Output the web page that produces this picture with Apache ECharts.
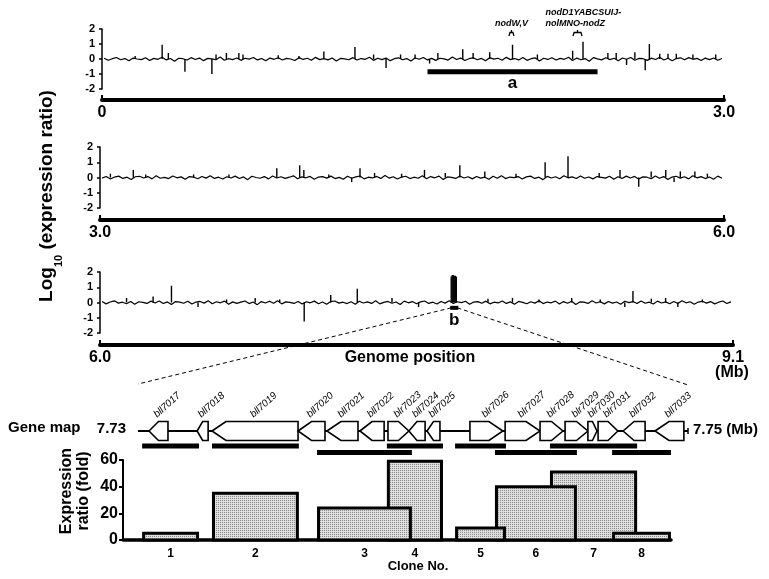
<!DOCTYPE html>
<html><head><meta charset="utf-8">
<script src="https://cdn.jsdelivr.net/npm/echarts@6/dist/echarts.min.js"></script>
<style>html,body{margin:0;padding:0;background:#fff}#c{width:769px;height:579px}</style>
</head><body><div id="c"></div>
<script>
// ================= DATA =================
const panelRanges = [[0, 3.0], [3.0, 6.0], [6.0, 9.1]];          // Mb
const panelTickLabels = [['0', '3.0'], ['3.0', '6.0'], ['6.0', '9.1']];
const logTicks = [-2, -1, 0, 1, 2];
const noiseStep = 0.02; // Mb between baseline readings
const noise1 = [0.05,-0.08,0.02,0.10,-0.05,0.03,-0.12,0.06,0.00,-0.04,0.08,-0.10,0.04,-0.02,0.12,-0.06,0.03,-0.15,0.05,0.02,-0.07,0.09,-0.03,0.06,-0.11,0.04,0.01,-0.05,0.13,-0.08,0.02,-0.04,0.07,-0.09,0.05,-0.01,0.10,-0.06,0.03,-0.12,0.06,-0.02,0.08,-0.07,0.04,0.00,-0.10,0.09,-0.03,0.05,-0.08,0.11,-0.04,0.02,-0.06,0.07,-0.13,0.04,0.01,-0.05,0.09,-0.07,0.03,-0.02,0.12,-0.09,0.05,-0.04,0.06,-0.11,0.02,0.08,-0.05,0.03,-0.14,0.07,-0.02,0.10,-0.06,0.04,-0.09,0.05,0.01,-0.07,0.13,-0.03,0.06,-0.10,0.02,0.08,-0.05,0.04,-0.12,0.09,-0.01,0.05,-0.08,0.11,-0.04,0.03,-0.06,0.10,-0.09,0.02,0.07,-0.13,0.05,-0.03,0.08,-0.07,0.04,-0.02,0.12,-0.10,0.06,-0.05,0.03,-0.15,0.09,0.01,-0.06,0.08,-0.04,0.05,-0.11,0.07,-0.02,0.10,-0.08,0.04,0.02,-0.09,0.06,-0.03,0.11,-0.07,0.05,-0.12,0.03,0.08,-0.05,0.09,-0.02,0.04,-0.10,0.06,-0.04,0.07,-0.08,0.03];
const noise2 = [-0.04,0.07,-0.10,0.03,0.09,-0.06,0.02,-0.13,0.05,0.08,-0.03,0.06,-0.09,0.11,-0.05,0.01,-0.07,0.10,-0.02,0.04,-0.12,0.06,0.03,-0.08,0.07,-0.04,0.12,-0.06,0.02,-0.10,0.05,-0.03,0.09,-0.07,0.04,-0.14,0.08,0.00,-0.05,0.06,-0.09,0.10,-0.03,0.05,-0.06,0.02,0.11,-0.08,0.04,-0.02,0.07,-0.11,0.03,0.06,-0.04,0.09,-0.07,0.01,-0.12,0.08,-0.05,0.04,0.10,-0.09,0.02,-0.03,0.07,-0.06,0.13,-0.04,0.05,-0.10,0.03,0.08,-0.07,0.02,-0.05,0.11,-0.08,0.06,-0.02,0.09,-0.13,0.04,0.01,-0.06,0.10,-0.03,0.05,-0.09,0.07,-0.04,0.02,-0.11,0.08,-0.05,0.12,-0.07,0.03,-0.01,0.06,-0.10,0.04,0.09,-0.06,0.02,-0.14,0.07,-0.03,0.05,-0.08,0.11,-0.02,0.04,-0.07,0.10,-0.05,0.03,-0.09,0.06,0.01,-0.04,0.08,-0.12,0.05,-0.06,0.09,-0.03,0.07,-0.10,0.04,0.02,-0.08,0.10,-0.05,0.06,-0.13,0.03,0.08,-0.04,0.05,-0.09,0.12,-0.02,0.06,-0.07,0.03,-0.11,0.09,-0.05];
const noise3 = [0.06,-0.09,0.03,0.11,-0.04,0.02,-0.08,0.07,-0.12,0.05,0.01,-0.06,0.09,-0.03,0.10,-0.07,0.04,-0.13,0.06,0.02,-0.05,0.08,-0.10,0.03,0.07,-0.04,0.12,-0.08,0.05,-0.02,0.09,-0.11,0.04,-0.06,0.02,0.10,-0.07,0.03,-0.14,0.06,-0.03,0.08,-0.05,0.11,-0.09,0.04,0.01,-0.06,0.07,-0.10,0.05,-0.02,0.09,-0.08,0.03,-0.12,0.06,0.10,-0.04,0.02,-0.07,0.05,-0.11,0.08,-0.03,0.04,-0.06,0.12,-0.09,0.01,0.07,-0.05,0.03,-0.13,0.09,-0.02,0.06,-0.08,0.04,0.10,-0.06,0.02,-0.10,0.07,-0.04,0.11,-0.07,0.05,-0.01,0.08,-0.12,0.03,0.06,-0.05,0.09,-0.09,0.02,-0.03,0.10,-0.06,0.04,-0.11,0.07,0.01,-0.08,0.05,-0.04,0.12,-0.07,0.03,-0.02,0.09,-0.10,0.06,-0.05,0.08,-0.13,0.04,0.02,-0.06,0.11,-0.03,0.05,-0.09,0.07,-0.04,0.03,-0.12,0.08,-0.01,0.06,-0.07,0.10,-0.05,0.02,-0.10,0.09,-0.03,0.04,-0.08,0.07,-0.06,0.12,-0.02,0.05,-0.11,0.03,0.08,-0.04,0.06,-0.09,0.02,0.10,-0.07,0.04];
// notable spikes [position Mb, log10 ratio]
const spikes1 = [[0.16,0.2],[0.29,0.95],[0.32,0.4],[0.40,-0.85],[0.53,-1.0],[0.55,0.3],[0.60,0.4],[0.66,0.4],[0.68,0.3],[0.85,0.25],[0.95,0.2],[1.07,0.5],[1.22,0.8],[1.31,0.3],[1.37,-0.6],[1.44,0.3],[1.51,0.3],[1.58,-0.3],[1.62,0.4],[1.74,0.65],[1.79,0.4],[1.87,0.45],[1.98,0.95],[2.10,0.3],[2.27,0.55],[2.32,1.15],[2.44,0.4],[2.48,0.4],[2.53,-0.4],[2.57,0.45],[2.62,-0.75],[2.64,1.0],[2.69,0.35],[2.73,0.35],[2.77,0.35],[2.85,0.3],[2.96,0.3]];
const spikes2 = [[3.05,0.25],[3.16,0.5],[3.22,0.2],[3.45,0.2],[3.62,0.2],[3.85,0.6],[3.96,0.8],[3.98,0.5],[4.10,0.2],[4.21,-0.3],[4.25,0.6],[4.32,0.3],[4.45,0.25],[4.56,0.5],[4.66,0.3],[4.73,0.8],[4.85,0.4],[5.00,0.25],[5.14,1.0],[5.25,1.4],[5.40,0.3],[5.50,0.5],[5.59,-0.6],[5.65,0.4],[5.72,0.5],[5.76,-0.3],[5.79,0.4],[5.86,0.4],[5.92,0.25]];
const spikes3 = [[6.13,0.3],[6.26,0.4],[6.35,1.1],[6.48,-0.3],[6.62,0.2],[6.76,0.3],[6.88,0.2],[7.00,-1.25],[7.13,0.5],[7.26,0.9],[7.43,0.3],[7.56,-0.3],[7.720,1.7],[7.725,1.8],[7.730,1.8],[7.735,1.75],[7.740,1.75],[7.745,1.7],[7.90,0.25],[8.02,0.3],[8.15,0.2],[8.31,0.3],[8.45,0.2],[8.57,-0.3],[8.61,0.75],[8.70,0.25],[8.77,0.3],[8.83,-0.3],[8.95,0.2]];
const regionA = [1.57, 2.39];     // Mb, labelled "a"
const regionB = [7.72, 7.75];     // Mb, labelled "b"
const annotLines = [['nodW,V'], ['nodD1YABCSUIJ-', 'nolMNO-nodZ']];
const annotFrom = [1.963, 2.272];
const annotTo = [1.987, 2.315];
// gene map (kb)
const geneMapRange = [7730, 7750];
const geneNames  = ['bll7017','bll7018','bll7019','bll7020','bll7021','bll7022','blr7023','bll7024','bll7025','blr7026','blr7027','blr7028','blr7029','blr7030','blr7031','bll7032','bll7033'];
const geneStart  = [7730.40,7732.15,7732.69,7735.82,7736.87,7738.07,7739.09,7739.85,7740.51,7742.07,7743.35,7744.62,7745.53,7746.36,7746.73,7747.64,7748.80];
const geneEnd    = [7731.09,7732.55,7735.82,7736.80,7738.00,7738.95,7739.85,7740.44,7740.98,7743.27,7744.62,7745.45,7746.36,7746.69,7747.45,7748.44,7749.85];
const geneStrand = [-1,-1,-1,-1,-1,-1,1,-1,-1,1,1,1,1,1,1,-1,-1];
// clones
const cloneNo    = ['1','2','3','4','5','6','7','8'];
const cloneStart = [7730.15,7732.69,7736.51,7739.05,7741.53,7742.98,7744.98,7747.24];
const cloneEnd   = [7732.22,7735.85,7739.96,7741.09,7743.38,7745.96,7748.15,7749.38];
const cloneRatio = [5, 35, 24, 59, 9, 40, 51, 5];   // fold
const ratioTicks = [0, 20, 40, 60];

// ================= LAYOUT =================
const FONT = '"Liberation Sans", Arial, Helvetica, sans-serif';
const P = [
  {left:102, top:29,  width:622, height:60, offset:11},
  {left:100, top:147, width:624, height:61, offset:12},
  {left:100, top:272, width:633, height:61, offset:12}
];
const cloneRow = [0,0,1,0,0,1,0,1];
const GENE = {left:138, top:421, width:550, height:20};
const BAR = {left:123, top:460, width:548, height:80};
const kbPx = GENE.width / (geneMapRange[1]-geneMapRange[0]);

const chart = echarts.init(document.getElementById('c'), null, {renderer:'canvas', width:769, height:579});

// dotted fill pattern
const pc = document.createElement('canvas'); pc.width = 2; pc.height = 2;
const g2 = pc.getContext('2d'); g2.fillStyle = '#dedede'; g2.fillRect(0,0,2,2); g2.fillStyle = '#8c8c8c'; g2.fillRect(0,0,1,1);
const pattern = {image: pc, repeat: 'repeat'};

const grid = [], xAxis = [], yAxis = [], series = [];
const noises = [noise1, noise2, noise3], spikes = [spikes1, spikes2, spikes3];
P.forEach((p, i) => {
  const r = panelRanges[i];
  grid.push({left:p.left, top:p.top, width:p.width, height:p.height, containLabel:false, outerBoundsMode:'none'});
  xAxis.push({gridIndex:i, type:'value', min:r[0], max:r[1], offset:p.offset,
    axisLine:{show:true, onZero:false, lineStyle:{color:'#000', width:4}},
    axisTick:{show:true, inside:true, length:5, customValues:r, lineStyle:{color:'#000', width:2}},
    axisLabel:{show:true, customValues:r, formatter:(v)=> Math.abs(v-r[0])<1e-9 ? panelTickLabels[i][0] : panelTickLabels[i][1],
      color:'#000', fontFamily:FONT, fontWeight:'bold', fontSize:16, margin:5},
    splitLine:{show:false}});
  yAxis.push({gridIndex:i, type:'value', min:logTicks[0], max:logTicks[logTicks.length-1], interval:1,
    axisLine:{show:true, onZero:false, lineStyle:{color:'#000', width:1.5}},
    axisTick:{show:true, length:3, lineStyle:{color:'#000', width:1.5}},
    axisLabel:{color:'#000', fontFamily:FONT, fontWeight:'bold', fontSize:11, margin:7},
    splitLine:{show:false}});
  series.push({type:'line', xAxisIndex:i, yAxisIndex:i, symbol:'none', silent:true, animation:false,
    lineStyle:{color:'#000', width:1.2}, data: noises[i].map((v,k)=>[r[0] + noiseStep*(k+0.5), v])});
  series.push({type:'custom', xAxisIndex:i, yAxisIndex:i, silent:true, animation:false, encode:{x:0, y:1},
    data: spikes[i],
    renderItem: (params, api) => {
      const x = api.value(0), v = api.value(1);
      const a = api.coord([x, 0]), b = api.coord([x, v]);
      return {type:'line', shape:{x1:a[0], y1:a[1], x2:b[0], y2:b[1]}, style:{stroke:'#000', lineWidth:1.4}};
    }});
});
// gene map grid
grid.push({left:GENE.left, top:GENE.top, width:GENE.width, height:GENE.height, containLabel:false, outerBoundsMode:'none'});
xAxis.push({gridIndex:3, type:'value', min:geneMapRange[0], max:geneMapRange[1], show:false});
yAxis.push({gridIndex:3, type:'value', min:0, max:1, show:false});
// bar grid
grid.push({left:BAR.left, top:BAR.top, width:BAR.width, height:BAR.height, containLabel:false, outerBoundsMode:'none'});
xAxis.push({gridIndex:4, type:'value', min:geneMapRange[0] - (GENE.left-BAR.left)/kbPx,
  max:geneMapRange[0] + (BAR.left+BAR.width-GENE.left)/kbPx,
  axisLine:{show:true, onZero:false, lineStyle:{color:'#000', width:3.5}}, axisTick:{show:false}, axisLabel:{show:false}, splitLine:{show:false}});
yAxis.push({gridIndex:4, type:'value', min:ratioTicks[0], max:ratioTicks[ratioTicks.length-1], interval:20,
  axisLine:{show:true, onZero:false, lineStyle:{color:'#000', width:2}},
  axisTick:{show:true, length:4, lineStyle:{color:'#000', width:2}},
  axisLabel:{color:'#000', fontFamily:FONT, fontWeight:'bold', fontSize:16, margin:5},
  splitLine:{show:false}});

// region a
series.push({type:'custom', xAxisIndex:0, yAxisIndex:0, silent:true, animation:false, data:[regionA],
  renderItem:(params, api) => {
    const p1 = api.coord([regionA[0], -0.85]), p2 = api.coord([regionA[1], -0.85]);
    return {type:'group', children:[
      {type:'rect', shape:{x:p1[0], y:p1[1]-2.5, width:p2[0]-p1[0], height:5}, style:{fill:'#000'}},
      {type:'text', style:{text:'a', x:(p1[0]+p2[0])/2, y:p1[1]+12, align:'center', verticalAlign:'middle', fill:'#000', font:'bold 17px '+FONT}}
    ]};
  }});
// annotations
series.push({type:'custom', xAxisIndex:0, yAxisIndex:0, silent:true, animation:false, data: annotFrom.map((f,i)=>[f, annotTo[i]]),
  renderItem:(params, api) => {
    const i = params.dataIndex;
    const x1 = api.coord([annotFrom[i], 0])[0], x2 = api.coord([annotTo[i], 0])[0];
    const yb = api.coord([0, 2])[1] + 3.5, xc = (x1+x2)/2;
    const lines = annotLines[i];
    const children = [
      {type:'polyline', shape:{points:[[x1,yb+3.5],[x1+1,yb],[x2-1,yb],[x2,yb+3.5]]}, style:{stroke:'#000', lineWidth:1.3, fill:null}},
      {type:'line', shape:{x1:xc, y1:yb, x2:xc, y2:yb-2.5}, style:{stroke:'#000', lineWidth:1.3}}
    ];
    lines.forEach((t, j) => {
      const y = yb - 8.5 - (lines.length-1-j)*11.5;
      children.push({type:'text', style:{text:t, x: lines.length>1 ? xc-32 : xc, y:y, align: lines.length>1 ? 'left':'center',
        verticalAlign:'middle', fill:'#000', font:'italic bold 9px '+FONT}});
    });
    return {type:'group', children};
  }});
// region b marker
series.push({type:'custom', xAxisIndex:2, yAxisIndex:2, silent:true, animation:false, data:[regionB],
  renderItem:(params, api) => {
    const p1 = api.coord([regionB[0], -0.35]), p2 = api.coord([regionB[1], -0.35]);
    return {type:'group', children:[
      {type:'rect', shape:{x:p1[0]-1, y:p1[1]-2, width:p2[0]-p1[0]+2, height:4}, style:{fill:'#000'}},
      {type:'text', style:{text:'b', x:(p1[0]+p2[0])/2, y:p1[1]+12, align:'center', verticalAlign:'middle', fill:'#000', font:'bold 17px '+FONT}}
    ]};
  }});
// gene map line
series.push({type:'custom', xAxisIndex:3, yAxisIndex:3, silent:true, animation:false, data:[geneMapRange],
  renderItem:(params, api) => {
    const a = api.coord([geneMapRange[0], 0.5]), b = api.coord([geneMapRange[1], 0.5]);
    return {type:'group', children:[
      {type:'line', shape:{x1:a[0], y1:a[1], x2:b[0], y2:b[1]}, style:{stroke:'#000', lineWidth:2}},
      {type:'line', shape:{x1:b[0], y1:b[1]-3, x2:b[0], y2:b[1]+3}, style:{stroke:'#000', lineWidth:1.5}}
    ]};
  }});
// genes
series.push({type:'custom', xAxisIndex:3, yAxisIndex:3, silent:true, animation:false, z:3,
  data: geneNames.map((n,i)=>[geneStart[i], geneEnd[i]]), encode:{x:[0,1]},
  renderItem:(params, api) => {
    const i = params.dataIndex;
    const xs = api.coord([geneStart[i], 0.5])[0], xe = api.coord([geneEnd[i], 0.5])[0];
    const yc = api.coord([0, 0.5])[1], H = 19, h = Math.min(14, (xe-xs)*0.5);
    let pts;
    if (geneStrand[i] < 0) pts = [[xs,yc],[xs+h,yc-H/2],[xe,yc-H/2],[xe,yc+H/2],[xs+h,yc+H/2]];
    else pts = [[xs,yc-H/2],[xe-h,yc-H/2],[xe,yc],[xe-h,yc+H/2],[xs,yc+H/2]];
    const xm = (xs+xe)/2;
    return {type:'group', children:[
      {type:'polygon', shape:{points:pts}, style:{fill:'#fff', stroke:'#000', lineWidth:1.6}},
      {type:'text', x:xm, y:yc-H/2-2, rotation:42*Math.PI/180,
        style:{text:geneNames[i], x:0, y:0, align:'left', verticalAlign:'bottom', fill:'#000', font:'italic 10px '+FONT}}
    ]};
  }});
// clone segments under gene map
series.push({type:'custom', xAxisIndex:3, yAxisIndex:3, silent:true, animation:false,
  data: cloneNo.map((c,i)=>[cloneStart[i], cloneEnd[i]]), encode:{x:[0,1]},
  renderItem:(params, api) => {
    const i = params.dataIndex;
    const a = api.coord([cloneStart[i], 0.5]), b = api.coord([cloneEnd[i], 0.5]);
    const y = a[1] + 15 + cloneRow[i]*6.5;
    return {type:'rect', shape:{x:a[0], y:y-2.5, width:b[0]-a[0], height:5}, style:{fill:'#000'}};
  }});
// expression ratio bars (taller drawn first)
const barOrder = cloneNo.map((c,i)=>i).sort((a,b)=>cloneRatio[b]-cloneRatio[a]);
series.push({type:'custom', xAxisIndex:4, yAxisIndex:4, silent:true, animation:false,
  data: barOrder.map(i=>[cloneStart[i], cloneEnd[i], cloneRatio[i]]), encode:{x:[0,1], y:2},
  renderItem:(params, api) => {
    const i = barOrder[params.dataIndex];
    const a = api.coord([cloneStart[i], cloneRatio[i]]), b = api.coord([cloneEnd[i], 0]);
    return {type:'group', children:[
      {type:'rect', z2: params.dataIndex*2, shape:{x:a[0]+1.5, y:a[1], width:b[0]-a[0]-3, height:b[1]-a[1]},
        style:{fill:pattern, stroke:'#000', lineWidth:3}},
      {type:'text', z2:100, style:{text:cloneNo[i], x:(a[0]+b[0])/2, y:b[1]+14, align:'center', verticalAlign:'middle', fill:'#000', font:'bold 12px '+FONT}}
    ]};
  }});

const graphic = [
  {type:'text', x:47, y:196, rotation:Math.PI/2, style:{text:'{b|Log}{s|10}{b| (expression ratio)}', align:'center', verticalAlign:'middle',
    rich:{b:{font:'bold 19px '+FONT, fill:'#000', lineHeight:22}, s:{font:'bold 11px '+FONT, fill:'#000', verticalAlign:'bottom', lineHeight:22, padding:[0,0,-6,0]}}}},
  {type:'text', x:410, y:358, style:{text:'Genome position', align:'center', verticalAlign:'middle', fill:'#000', font:'bold 16px '+FONT}},
  {type:'text', x:732, y:373, style:{text:'(Mb)', align:'center', verticalAlign:'middle', fill:'#000', font:'bold 16px '+FONT}},
  {type:'text', x:8, y:428, style:{text:'Gene map', align:'left', verticalAlign:'middle', fill:'#000', font:'bold 15px '+FONT}},
  {type:'text', x:126, y:429, style:{text:(geneMapRange[0]/1000).toFixed(2), align:'right', verticalAlign:'middle', fill:'#000', font:'bold 15px '+FONT}},
  {type:'text', x:693, y:430, style:{text:(geneMapRange[1]/1000).toFixed(2)+' (Mb)', align:'left', verticalAlign:'middle', fill:'#000', font:'bold 15px '+FONT}},
  {type:'text', x:418, y:566, style:{text:'Clone No.', align:'center', verticalAlign:'middle', fill:'#000', font:'bold 13px '+FONT}},
  {type:'text', x:75, y:491, rotation:Math.PI/2, style:{text:'Expression\nratio (fold)', align:'center', verticalAlign:'middle', fill:'#000', font:'bold 16px '+FONT, lineHeight:17}}
];

chart.setOption({animation:false, backgroundColor:'#fff', grid, xAxis, yAxis, series, graphic});

// dashed zoom lines from region b to gene map ends
const bl = chart.convertToPixel({gridIndex:2}, [regionB[0], -0.35]);
const br = chart.convertToPixel({gridIndex:2}, [regionB[1], -0.35]);
const gl = chart.convertToPixel({gridIndex:3}, [geneMapRange[0], 0.5]);
const gr = chart.convertToPixel({gridIndex:3}, [geneMapRange[1], 0.5]);
graphic.push({type:'line', shape:{x1:bl[0], y1:bl[1], x2:gl[0], y2:gl[1]-47}, style:{stroke:'#000', lineWidth:1, lineDash:[4,3]}});
graphic.push({type:'line', shape:{x1:br[0], y1:br[1], x2:gr[0], y2:gr[1]-46}, style:{stroke:'#000', lineWidth:1, lineDash:[4,3]}});
chart.setOption({graphic});
</script></body></html>
